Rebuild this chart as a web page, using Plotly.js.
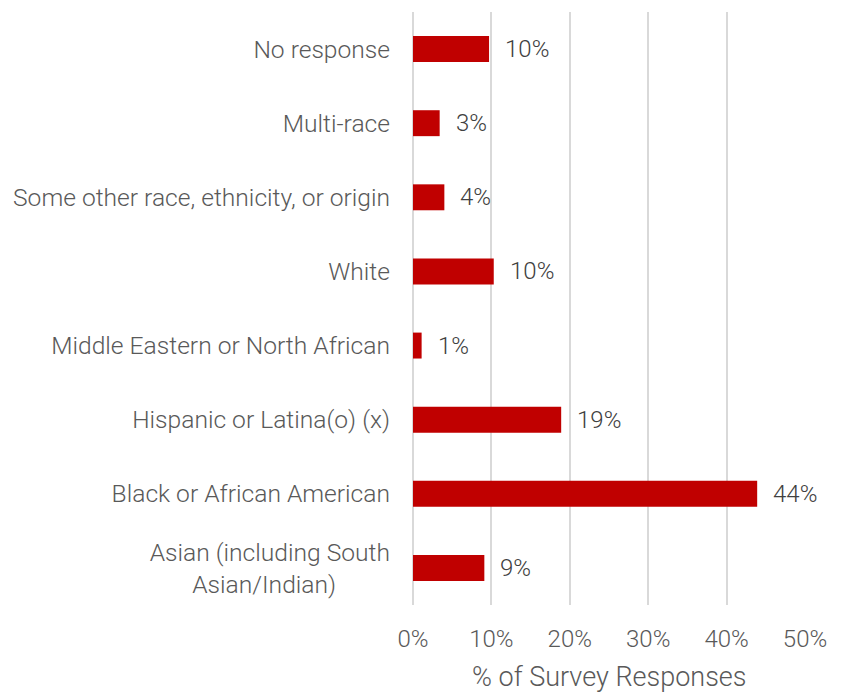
<!DOCTYPE html>
<html>
<head>
<meta charset="utf-8">
<script src="https://cdn.plot.ly/plotly-3.0.1.min.js"></script>
<style>html,body{margin:0;padding:0;background:#fff;}#chart{width:845px;height:694px;}</style>
</head>
<body>
<div id="chart"></div>
<script>
const categories = [
  "No response",
  "Multi-race",
  "Some other race, ethnicity, or origin",
  "White",
  "Middle Eastern or North African",
  "Hispanic or Latina(o) (x)",
  "Black or African American",
  "Asian (including South<br>Asian/Indian)\u00A0\u00A0\u00A0\u00A0\u00A0\u00A0\u00A0\u00A0\u00A0"
];
const values = [9.7, 3.4, 4.0, 10.3, 1.1, 18.9, 43.9, 9.1];
const valueLabels = values.map(v => Math.round(v) + "%");
const xTickVals = [0, 10, 20, 30, 40, 50];
const xTickText = ["0%", "10%", "20%", "30%", "40%", "50%"];
const xAxisTitle = "% of Survey Responses";

const FONT = "Roboto, 'DejaVu Sans', sans-serif";

const trace = {
  type: "bar",
  orientation: "h",
  x: values,
  y: categories,
  marker: {color: "#C00000"},
  hoverinfo: "skip"
};

const annotations = values.map((v, i) => ({
  x: v, y: categories[i], xref: "x", yref: "y",
  text: valueLabels[i], showarrow: false,
  xanchor: "left", yanchor: "middle", xshift: 14,
  font: {family: FONT, size: 24, weight: 300, color: "#404040"}
}));

annotations.push({
  xref: "paper", yref: "paper", x: 0.5, y: 0,
  xanchor: "center", yanchor: "middle", yshift: -72, borderpad: 0,
  text: xAxisTitle, showarrow: false,
  font: {family: FONT, size: 27, weight: 300, color: "#595959"}
});

const layout = {
  width: 845, height: 694,
  margin: {l: 413, r: 40, t: 12, b: 89},
  paper_bgcolor: "#ffffff", plot_bgcolor: "#ffffff",
  bargap: 0.65,
  showlegend: false,
  xaxis: {
    range: [0, 50],
    tickvals: xTickVals, ticktext: xTickText,
    showgrid: true, gridcolor: "#d9d9d9", gridwidth: 2,
    zeroline: true, zerolinecolor: "#d9d9d9", zerolinewidth: 2,
    showline: false, ticks: "",
    ticklabelstandoff: 17,
    tickfont: {family: FONT, size: 24, weight: 300, color: "#595959"},
    fixedrange: true
  },
  yaxis: {
    autorange: "reversed",
    showgrid: false, zeroline: false, showline: false, ticks: "",
    ticklabelstandoff: 22,
    tickfont: {family: FONT, size: 24.6, weight: 300, color: "#595959"},
    fixedrange: true
  },
  annotations: annotations
};

Plotly.newPlot("chart", [trace], layout, {displayModeBar: false, staticPlot: true});
</script>
</body>
</html>
